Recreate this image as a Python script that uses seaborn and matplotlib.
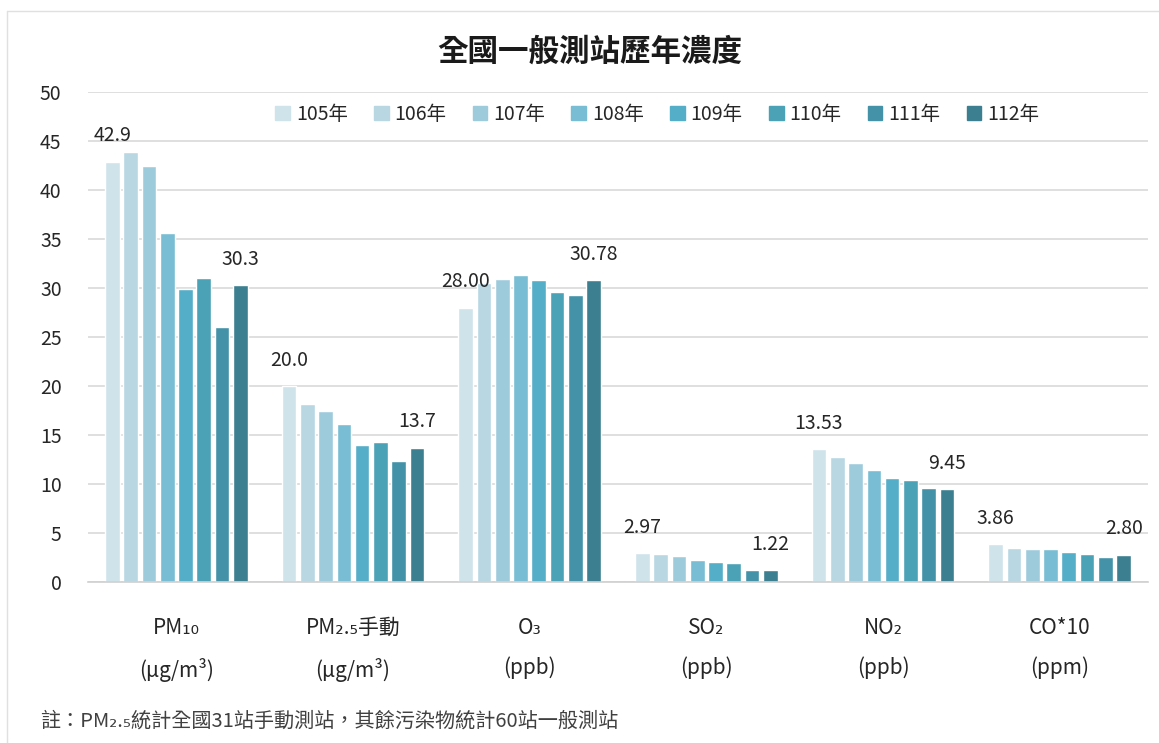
import pandas as pd
import numpy as np
import matplotlib
matplotlib.use('Agg')
import matplotlib.pyplot as plt
import seaborn as sns
from matplotlib.lines import Line2D

# chart data
categories = ['PM₁₀\n(μg/m³)', 'PM₂.₅手動\n(μg/m³)', 'O₃\n(ppb)', 'SO₂\n(ppb)', 'NO₂\n(ppb)', 'CO*10\n(ppm)']
years = ['105年', '106年', '107年', '108年', '109年', '110年', '111年', '112年']

pm10 = [42.9, 43.9, 42.5, 35.6, 29.9, 31.0, 26.0, 30.3]
pm25 = [20.0, 18.2, 17.4, 16.1, 14.0, 14.3, 12.3, 13.7]
o3 = [28.00, 30.5, 30.9, 31.3, 30.8, 29.6, 29.3, 30.78]
so2 = [2.97, 2.85, 2.65, 2.2, 2.05, 1.9, 1.2, 1.22]
no2 = [13.53, 12.8, 12.1, 11.4, 10.6, 10.4, 9.6, 9.45]
co10 = [3.86, 3.5, 3.4, 3.4, 3.1, 2.85, 2.6, 2.80]

# labels shown above first and last year only
first_labels = ['42.9', '20.0', '28.00', '2.97', '13.53', '3.86']
last_labels = ['30.3', '13.7', '30.78', '1.22', '9.45', '2.80']

colors = ['#cfe3ea', '#b8d7e2', '#9ecbdb', '#78bdd3', '#55aec7', '#4ba2b7', '#4492a8', '#3c7f91']

series = [pm10, pm25, o3, so2, no2, co10]
rows = []
for cat, vals in zip(categories, series):
    for yr, v in zip(years, vals):
        rows.append({'pollutant': cat, 'year': yr, 'value': v})
df = pd.DataFrame(rows)

sns.set_theme(style='white')
plt.rcParams['font.family'] = ['Noto Sans CJK TC', 'DejaVu Sans']

fig = plt.figure(figsize=(11.59, 7.43), dpi=100)
ax = fig.add_axes([88 / 1159, 1 - 582 / 743, 1060 / 1159, 490 / 743])

sns.barplot(data=df, x='pollutant', y='value', hue='year', palette=colors,
            width=0.83, gap=0.2, saturation=1, ax=ax, legend=False)

# value labels on first and last bar of each group
ax.bar_label(ax.containers[0], labels=first_labels, padding=11, fontsize=14, color='#262626')
ax.bar_label(ax.containers[-1], labels=last_labels, padding=11, fontsize=14, color='#262626')

ax.set_ylim(0, 50)
ax.set_yticks(np.arange(0, 51, 5))
ax.yaxis.grid(True, color='#d9d9d9', linewidth=1.2)
ax.set_axisbelow(True)
for s in ['top', 'right', 'left']:
    ax.spines[s].set_visible(False)
ax.spines['bottom'].set_color('#d0d0d0')
ax.spines['bottom'].set_linewidth(1.2)
ax.tick_params(axis='y', length=0, pad=19, labelsize=14, labelcolor='#262626')
ax.tick_params(axis='x', length=0, pad=25, labelsize=15, labelcolor='#262626')
for lab in ax.get_xticklabels():
    lab.set_linespacing(2.0)
ax.set_xlabel('')
ax.set_ylabel('')

# legend
handles = [plt.Rectangle((0, 0), 1, 1, color=c) for c in colors]
ax.legend(handles, years, ncol=8, loc='center', bbox_to_anchor=(0.537, 0.955),
          frameon=False, fontsize=14, handlelength=0.75, handleheight=0.75,
          handletextpad=0.3, columnspacing=1.35, labelcolor='#262626')

fig.text(0.509, 0.93, '全國一般測站歷年濃度', ha='center', va='center',
         fontsize=22, fontweight='bold', color='#1a1a1a')
fig.text(40 / 1159, 1 - 721 / 743, '註：PM₂.₅統計全國31站手動測站，其餘污染物統計60站一般測站',
         ha='left', va='center', fontsize=14.5, color='#404040')

# thin frame lines at top and left like the source screenshot
fig.add_artist(Line2D([7 / 1159, 1], [1 - 11 / 743, 1 - 11 / 743], color='#e0e0e0', linewidth=1))
fig.add_artist(Line2D([7 / 1159, 7 / 1159], [0, 1 - 11 / 743], color='#e0e0e0', linewidth=1))

fig.savefig('out.png', dpi=100)
